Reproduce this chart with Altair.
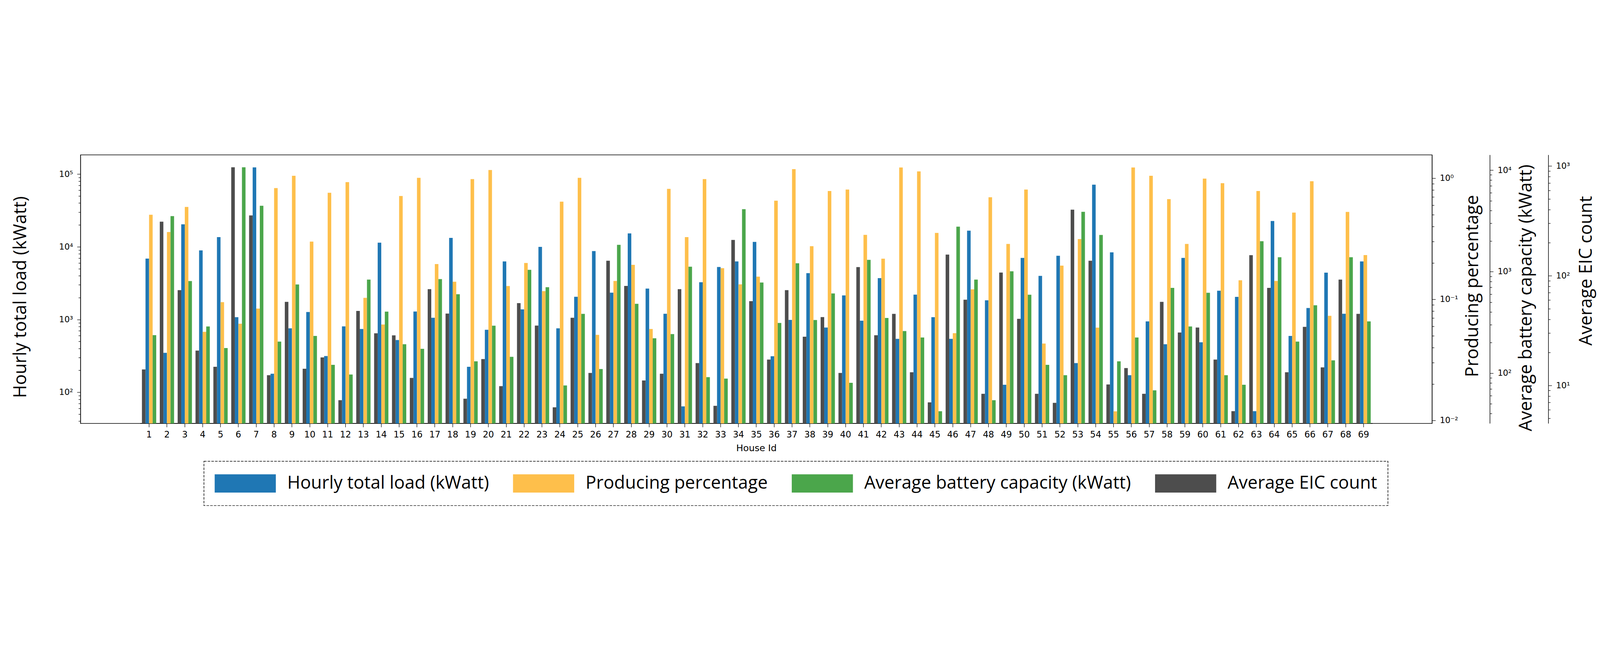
import math
import altair as alt
import pandas as pd

# ---------------- data ----------------
houses = list(range(1, 70))

hourly_load = [6900, 349, 20400, 8950, 13600, 1080, 124000, 180, 759, 1270,
               315, 807, 741, 11400, 523, 1290, 1060, 13300, 224, 724,
               6310, 1380, 9980, 759, 2060, 8750, 2340, 15300, 2670, 1200,
               64, 3260, 5280, 6310, 11700, 313, 988, 4350, 777, 2150,
               965, 3720, 543, 2200, 1080, 543, 16700, 1840, 127, 7040,
               3990, 7550, 252, 71600, 8410, 172, 943, 458, 7040, 487,
               2490, 2050, 55, 22700, 596, 1440, 4420, 1200, 6310]

producing = [0.50, 0.36, 0.58, 0.054, 0.095, 0.063, 0.084, 0.83, 1.05, 0.30,
             0.76, 0.93, 0.103, 0.062, 0.715, 1.01, 0.196, 0.14, 0.986, 1.17,
             0.129, 0.20, 0.117, 0.642, 1.01, 0.051, 0.142, 0.193, 0.057, 0.818,
             0.327, 0.986, 0.181, 0.133, 0.154, 0.654, 1.19, 0.275, 0.785, 0.807,
             0.341, 0.217, 1.23, 1.14, 0.354, 0.0526, 0.121, 0.698, 0.287, 0.807,
             0.0432, 0.19, 0.315, 0.0585, 0.0119, 1.23, 1.05, 0.673, 0.287, 0.995,
             0.911, 0.144, 0.785, 0.142, 0.521, 0.946, 0.0732, 0.528, 0.2325]

battery = [237, 3530, 809, 289, 177, 10700, 4470, 205, 749, 233,
           121, 97, 837, 404, 193, 174, 846, 600, 131, 294,
           145, 1045, 704, 75.7, 384, 110, 1840, 483, 221, 243,
           1120, 91.5, 88.5, 4130, 783, 313, 1210, 334, 610, 80.5,
           1310, 350, 260, 225, 42.2, 2780, 837, 54.2, 1010, 593,
           121, 95.6, 3890, 2300, 131, 225, 67.8, 693, 289, 620,
           95.6, 77, 2000, 1390, 205, 467, 134, 1390, 324]

eic = [14, 311, 74, 20.8, 14.8, 975, 355, 12.4, 57.8, 14.2,
       18, 7.34, 47.8, 29.9, 28.6, 11.7, 75.5, 45.2, 7.57, 17.4,
       9.85, 56.3, 35.1, 6.32, 41.4, 13, 137, 80.8, 11.1, 12.8,
       75.5, 16, 6.52, 212, 58.7, 17.2, 74, 27.8, 42, 13,
       120, 28.7, 44.9, 13.2, 7.01, 156, 60.5, 8.39, 107, 40.5,
       8.39, 6.94, 400, 137, 10.2, 14.4, 8.39, 57.8, 30.4, 33.7,
       17.2, 5.83, 154, 77.5, 13.2, 34.2, 14.6, 92.3, 44.9]

S_LOAD = "Hourly total load (kWatt)"
S_PROD = "Producing percentage"
S_BATT = "Average battery capacity (kWatt)"
S_EIC = "Average EIC count"

legend_order = [S_LOAD, S_PROD, S_BATT, S_EIC]
bar_order = [S_EIC, S_LOAD, S_PROD, S_BATT]
colors = ["#1f77b4", "#febf4b", "#4ba64b", "#4d4d4d"]

y_domains = {
    S_LOAD: [37.27, 183900],
    S_PROD: [0.009454, 1.561],
    S_BATT: [31.98, 14160],
    S_EIC: [4.503, 1264],
}

rows = []
for name, vals in [(S_LOAD, hourly_load), (S_PROD, producing),
                   (S_BATT, battery), (S_EIC, eic)]:
    for h, v in zip(houses, vals):
        rows.append({"house": h, "series": name, "value": v})
df = pd.DataFrame(rows)

# ---------------- helpers ----------------
SUP = {-3: "\u207b\u00b3", -2: "\u207b\u00b2", -1: "\u207b\u00b9", 0: "\u2070",
       1: "\u00b9", 2: "\u00b2", 3: "\u00b3", 4: "\u2074", 5: "\u2075", 6: "\u2076"}


def log_ticks(lo, hi):
    out = []
    for e in range(-3, 7):
        for m in range(1, 10):
            v = float(f"{m}e{e}")
            if lo <= v <= hi:
                out.append(v)
    return out


def label_expr(ticks):
    parts = []
    for v in ticks:
        e = round(math.log10(v))
        if abs(math.log10(v) - e) < 1e-9:
            parts.append(f"abs(datum.value - {v!r}) < {abs(v) * 1e-6!r} ? '10{SUP[e]}'")
    return " : ".join(parts) + " : ''"


NOT_POW10 = "abs(log(datum.value)/LN10 - round(log(datum.value)/LN10)) > 0.000001"


def y_axis(orient, title, ticks, offset, title_x, title_y):
    return alt.Axis(
        orient=orient, title=title, values=ticks, labelExpr=label_expr(ticks),
        offset=offset, grid=False, labelOverlap=False,
        tickSize={"condition": {"test": NOT_POW10, "value": 9}, "value": 15},
        labelPadding=18, labelBaseline="middle",
        titleX=title_x, titleY=title_y, titleAngle=270, titleBaseline="middle",
        titleAlign="center", titleLimit=3000,
    )


PLOT_W = 5848
PLOT_H = 1162
# outer margin of the house axis (about 3.34 house steps on either side)
x_margin = 3.337 * PLOT_W / (len(houses) + 2 * 3.337)

x_enc = alt.X(
    "house:O",
    scale=alt.Scale(domain=houses, paddingInner=0, paddingOuter=0,
                    range=[x_margin, PLOT_W - x_margin]),
    axis=alt.Axis(title="House Id", titleFont="DejaVu Sans", titleFontSize=40,
                  titleY=88, titleBaseline="top", labelFontSize=38, labelAngle=0,
                  labelPadding=14, tickSize=16, labelOverlap=False, grid=False),
)
xo_enc = alt.XOffset("series:N",
                     scale=alt.Scale(domain=bar_order, paddingInner=0, paddingOuter=0.5))
color_enc = alt.Color(
    "series:N",
    scale=alt.Scale(domain=legend_order, range=colors),
    legend=alt.Legend(
        title=None, orient="none", legendX=534, legendY=1325.5,
        direction="horizontal", columns=4,
        symbolType="M-1,-0.2981H1V0.2981H-1Z", symbolSize=70225,
        symbolStrokeWidth=0, symbolOpacity=1,
        labelFont="Open Sans", labelFontSize=77, labelOffset=49, labelLimit=3000,
        labelColor="black", labelBaseline="middle",
        columnPadding=103, padding=46, clipHeight=100, strokeColor="black",
    ),
)

axes_spec = {
    S_LOAD: ("left", 0, -259, 615),
    S_PROD: ("right", 0, 175, 567),
    S_BATT: ("right", 250, 157, 618),
    S_EIC: ("right", 503, 164, 501),
}

layers = []
for name in [S_LOAD, S_PROD, S_BATT, S_EIC]:
    orient, off, tx, ty = axes_spec[name]
    lo, hi = y_domains[name]
    ticks = log_ticks(lo, hi)
    layer = alt.Chart(df).transform_filter(alt.datum.series == name).mark_bar().encode(
        x=x_enc,
        xOffset=xo_enc,
        color=color_enc,
        y=alt.Y("value:Q", stack=None,
                scale=alt.Scale(type="log", domain=[lo, hi], nice=False),
                axis=y_axis(orient, name, ticks, off, tx, ty)),
    )
    layers.append(layer)

chart = alt.layer(*layers).resolve_scale(y="independent").properties(
    width=PLOT_W, height=PLOT_H,
    autosize=alt.AutoSizeParams(type="none"),
    padding={"left": 335, "top": 88, "right": 713, "bottom": 398},
).configure_axis(
    labelFont="DejaVu Sans", labelFontSize=36, labelColor="black",
    titleFont="Open Sans", titleFontSize=77, titleFontWeight="normal", titleColor="black",
    domainColor="black", domainWidth=2.5, tickColor="black", tickWidth=2,
).configure_legend(
    strokeDash=[11, 5], strokeWidth=2.5,
).configure_view(stroke="black", strokeWidth=2.5)

chart.save("out.html", embed_options={"renderer": "svg", "actions": False})
